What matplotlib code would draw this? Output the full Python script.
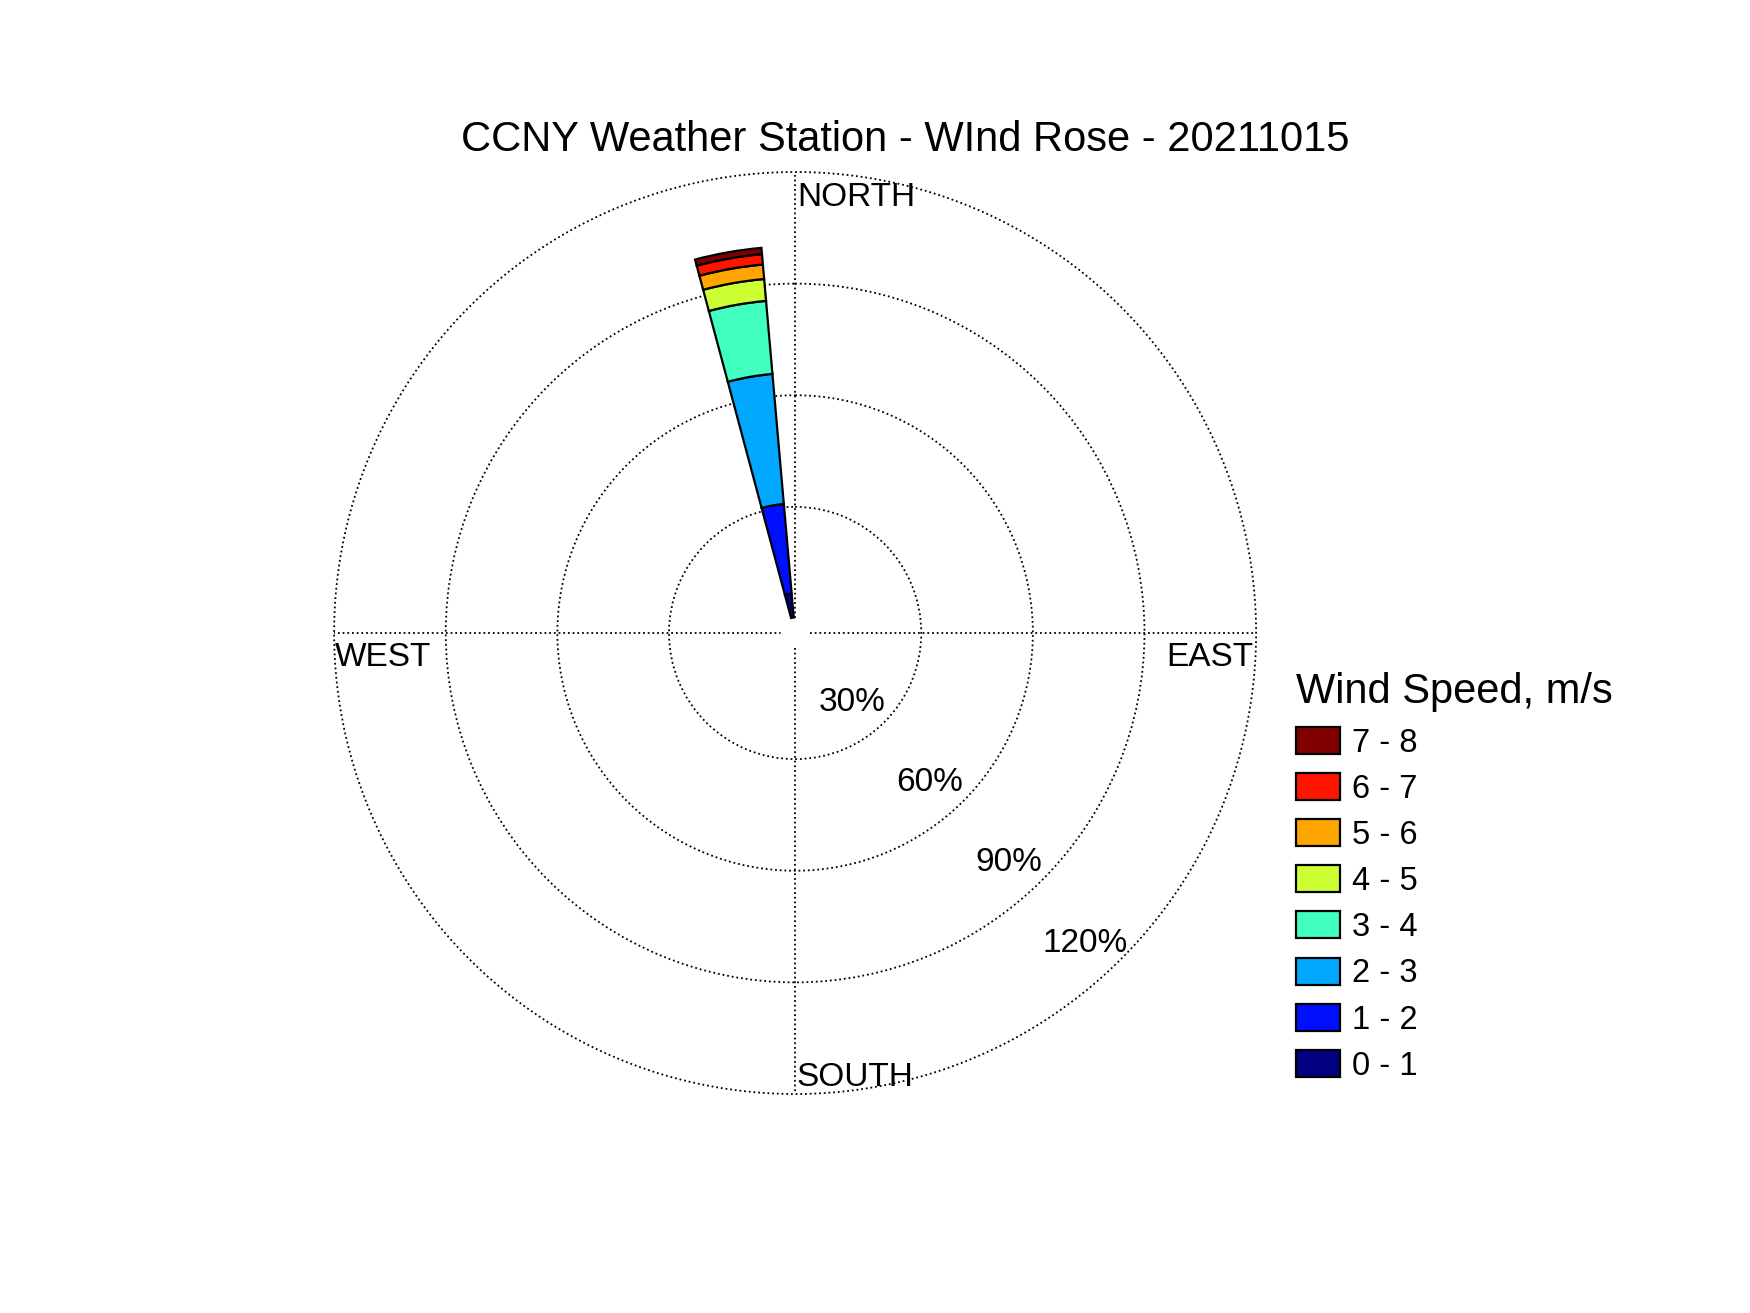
import numpy as np
import matplotlib
matplotlib.use("Agg")
import matplotlib.pyplot as plt

plt.rcParams['font.family'] = ['Liberation Sans', 'DejaVu Sans']

# wind rose data: one direction bin (350 deg), stacked by speed class, in %
direction_deg = 350
bin_width_deg = 10
speed_labels = ['0 - 1', '1 - 2', '2 - 3', '3 - 4', '4 - 5', '5 - 6', '6 - 7', '7 - 8']
speed_pct = [6.7, 24.2, 35.1, 19.7, 5.9, 3.9, 2.8, 1.7]
ring_pct = [30, 60, 90, 120]
title = 'CCNY Weather Station - WInd Rose - 20211015'

# jet-like colours as in the original
colors = ['#000080', '#0010FF', '#00A8FF', '#40FFC0', '#CCFF33', '#FFA500', '#FF1400', '#800000']

fig = plt.figure(figsize=(17.5, 13.13), dpi=100)
ax = fig.add_axes([0.1909, 0.1668, 0.5269, 0.7022], projection='polar')
ax.set_theta_zero_location('N')
ax.set_theta_direction(-1)
ax.set_ylim(0, 120)
ax.set_rorigin(-3.9)
ax.patch.set_visible(False)

dots = (0, (1, 1.6))
theta = np.deg2rad(direction_deg)
width = np.deg2rad(bin_width_deg)
bottom = 0
bars = []
for i in range(len(speed_pct)):
    b = ax.bar(theta, speed_pct[i], width=width, bottom=bottom, color=colors[i],
               edgecolor='black', linewidth=1.6, zorder=3)
    bars.append(b)
    bottom += speed_pct[i]

# grid
ax.set_yticks(ring_pct[:-1])
ax.set_yticklabels([])
ax.set_xticks(np.deg2rad([0, 90, 180, 270]))
ax.set_xticklabels([])
ax.tick_params(length=0)
ax.grid(True, color='black', linestyle=dots, linewidth=1.3)
tt = np.linspace(0, 2 * np.pi, 400)
ax.plot(tt, np.full_like(tt, ring_pct[-1]), color='black', linestyle=dots,
        linewidth=1.3, clip_on=False)
# polar axes turns the inner spine back on when drawing, so blank it instead
for s in ax.spines.values():
    s.set_edgecolor('none')
    s.set_linewidth(0)

# ring labels
label_ang = [141, 138, 137, 137]
for p, a in zip(ring_pct, label_ang):
    ax.text(np.deg2rad(a), p - 9.7, '%d%%' % p, fontsize=24, ha='center', va='center')

fig.text(797 / 1750, 1 - 198 / 1313, 'NORTH', fontsize=24, ha='left', va='center')
fig.text(796 / 1750, 1 - 1077 / 1313, 'SOUTH', fontsize=24, ha='left', va='center')
fig.text(335 / 1750, 1 - 658 / 1313, 'WEST', fontsize=24, ha='left', va='center')
fig.text(1253 / 1750, 1 - 658 / 1313, 'EAST', fontsize=24, ha='right', va='center')

fig.text(905 / 1750, 1 - 140 / 1313, title, fontsize=30, ha='center', va='center')

handles = [b[0] for b in bars][::-1]
leg = fig.legend(handles, speed_labels[::-1], loc='upper left',
                 bbox_to_anchor=(1267 / 1750, 1 - 643 / 1313), frameon=False,
                 fontsize=23.5, title='Wind Speed, m/s', title_fontsize=30,
                 handlelength=1.35, handleheight=0.9, handletextpad=0.35,
                 labelspacing=0.44, alignment='left')

fig.savefig('out.png', dpi=100)
